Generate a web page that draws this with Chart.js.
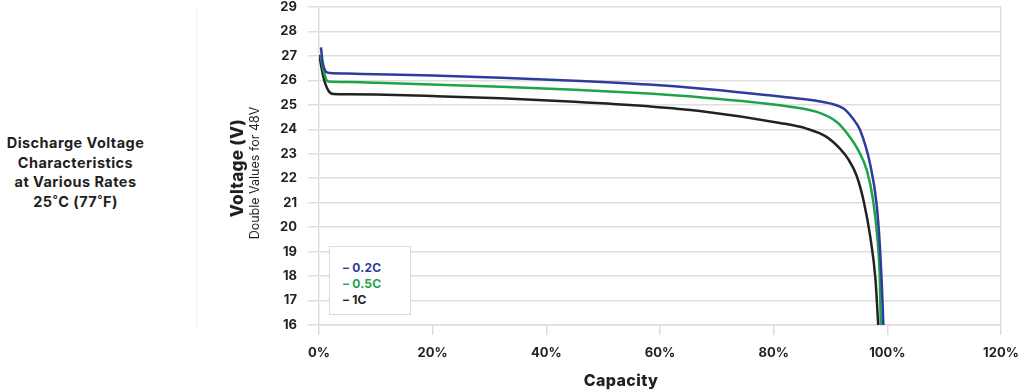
<!DOCTYPE html>
<html>
<head>
<meta charset="utf-8">
<script src="https://cdn.jsdelivr.net/npm/chart.js@4/dist/chart.umd.min.js"></script>
<style>
  html, body { margin: 0; padding: 0; background: #fff; }
  body { width: 1024px; height: 391px; position: relative; overflow: hidden; font-family: Inter, "DejaVu Sans", sans-serif; color: #231f20; }
  #wrap { position: absolute; left: 0; top: 0; width: 1024px; height: 391px; }
  .side { position: absolute; left: 0; top: 133px; width: 151px; text-align: center; font-weight: 700; font-size: 14.5px; letter-spacing: 0.45px; line-height: 19.5px; }
  .divider { position: absolute; left: 196px; top: 8px; width: 1px; height: 322px; background: #f3f3f3; }
  .ytitle { position: absolute; white-space: nowrap; transform: translate(-50%, -50%) rotate(-90deg); }
  .ytitle.main { left: 237px; top: 168px; font-size: 17px; font-weight: 800; letter-spacing: 0.3px; }
  .ytitle.sub { left: 254px; top: 173px; font-size: 12.5px; font-weight: 400; }
  .xtitle { position: absolute; left: 621px; top: 380px; transform: translate(-50%, -50%); font-size: 16px; font-weight: 800; letter-spacing: 0.4px; }
  #legend { position: absolute; left: 329px; top: 246px; width: 82px; height: 69px; border: 1px solid #dcdcdc; background: #fff; box-sizing: border-box; padding: 13px 0 0 13px; font-size: 12px; font-weight: 700; line-height: 16px; letter-spacing: 0.2px; }
</style>
</head>
<body>
<div class="divider"></div>
<div class="side">Discharge Voltage<br>Characteristics<br>at Various Rates<br>25˚C (77˚F)</div>
<div id="wrap"><canvas id="chart" width="1024" height="391"></canvas></div>
<div class="ytitle main">Voltage (V)</div>
<div class="ytitle sub">Double Values for 48V</div>
<div class="xtitle">Capacity</div>
<div id="legend"></div>
<script>
// capacity (%) / voltage (V) pairs
const rate02C = [
  [0.35, 27.35], [0.6, 26.8], [1.2, 26.36], [2, 26.3], [5, 26.28], [10, 26.25],
  [20, 26.2], [32, 26.11], [45, 25.99], [58, 25.83], [67, 25.67], [81.1, 25.34],
  [89.9, 25.06], [92.3, 24.85], [93.9, 24.45], [95.2, 23.97], [96.95, 22.6],
  [98.1, 20.97], [98.7, 19.2], [99.0, 17.84], [99.3, 16.0],
];
const rate05C = [
  [0.3, 27.0], [0.8, 26.4], [1.6, 25.95], [5, 25.93], [10, 25.9], [20, 25.83],
  [32, 25.74], [45, 25.62], [58, 25.46], [67, 25.31], [81.1, 24.98], [87.6, 24.71],
  [91.1, 24.3], [93.4, 23.69], [94.9, 23.14], [96.4, 22.32], [97.5, 21.1],
  [98.2, 19.66], [98.65, 18.04], [98.85, 16.0],
];
const rate1C = [
  [0.05, 27.04], [0.76, 26.15], [1.6, 25.6], [2.5, 25.44], [5, 25.43], [10, 25.42],
  [20, 25.36], [32, 25.27], [45, 25.13], [58, 24.94], [67, 24.75], [81.1, 24.26],
  [85.8, 24.03], [89.3, 23.69], [91.7, 23.2], [93.1, 22.79], [94.6, 22.1],
  [95.9, 21.0], [97.0, 19.6], [97.9, 17.9], [98.4, 16.0],
];

const seriesNames = ["0.2C", "0.5C", "1C"];
const seriesColors = ["#2e3c9c", "#1ea34b", "#222222"];
const seriesData = [rate02C, rate05C, rate1C];

const xTicks = [0, 20, 40, 60, 80, 100, 120];
const yMin = 16;
const yMax = 29;

const grid = "#dedede";
const tickFont = { family: "Inter, 'DejaVu Sans', sans-serif", size: 13, weight: "700" };

document.getElementById("legend").innerHTML = seriesNames
  .map((name, i) => `<div style="color:${seriesColors[i]}">– ${name}</div>`)
  .join("");

new Chart(document.getElementById("chart"), {
  type: "line",
  data: {
    datasets: seriesData.map((points, i) => ({
      label: seriesNames[i],
      data: points.map(([x, y]) => ({ x, y })),
      borderColor: seriesColors[i],
      backgroundColor: seriesColors[i],
      borderWidth: 2.5,
      pointRadius: 0,
      cubicInterpolationMode: "monotone",
      fill: false,
    })),
  },
  options: {
    responsive: false,
    animation: false,
    layout: { padding: { left: 210, top: 7, right: 23, bottom: 0 } },
    plugins: { legend: { display: false }, tooltip: { enabled: false } },
    scales: {
      x: {
        type: "linear",
        min: 0,
        max: 120,
        afterBuildTicks: (scale) => {
          scale.ticks = xTicks.map((value) => ({ value }));
        },
        afterFit: (scale) => {
          scale.height = 66;
          scale.paddingLeft = 0;
          scale.paddingRight = 0;
        },
        grid: {
          color: (ctx) => (ctx.tick && ctx.tick.value === 120 ? grid : "transparent"),
          tickColor: grid,
          tickLength: 10,
          lineWidth: 1.5,
        },
        border: { display: true, color: grid, width: 1.5 },
        ticks: {
          color: "#231f20",
          font: tickFont,
          padding: 10,
          maxRotation: 0,
          callback: (v) => v + "%",
        },
      },
      y: {
        min: yMin,
        max: yMax,
        afterFit: (scale) => {
          scale.width = 109;
          scale.paddingTop = 0;
          scale.paddingBottom = 0;
        },
        grid: { color: grid, tickColor: grid, tickLength: 11, lineWidth: 1.5 },
        border: { display: true, color: grid, width: 1.5 },
        ticks: { stepSize: 1, color: "#231f20", font: tickFont, padding: 11 },
      },
    },
  },
});
</script>
</body>
</html>
